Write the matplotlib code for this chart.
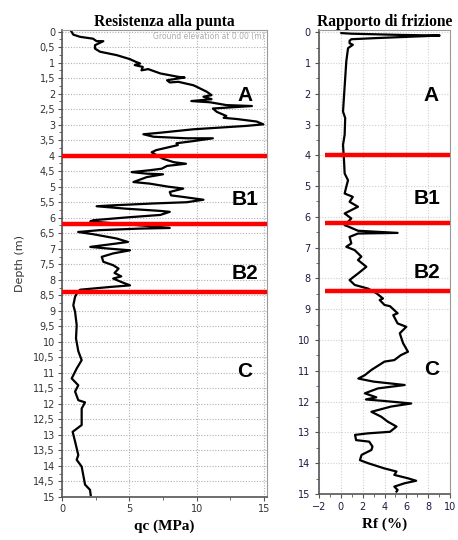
import matplotlib
matplotlib.use("Agg")
import matplotlib.pyplot as plt
import numpy as np
from matplotlib.ticker import MultipleLocator, FuncFormatter

# ---- data ----
depth_qc = [0.00, 0.10, 0.17, 0.23, 0.31, 0.31, 0.44, 0.55, 0.65, 0.76, 0.89, 0.98, 1.03, 1.08, 1.14,
            1.25, 1.21, 1.35, 1.46, 1.48, 1.57, 1.64, 1.62, 1.73, 1.78, 1.94, 2.05, 2.10, 2.18, 2.24,
            2.28, 2.37, 2.40, 2.48, 2.59, 2.72, 2.78, 2.82, 2.90, 2.99, 3.04, 3.15, 3.26, 3.31, 3.39,
            3.44, 3.44, 3.53, 3.60, 3.66, 3.82, 3.89, 3.98, 4.10, 4.21, 4.26, 4.33, 4.42, 4.47, 4.53,
            4.58, 4.60, 4.69, 4.85, 4.90, 5.00, 5.06, 5.17, 5.28, 5.33, 5.42, 5.50, 5.54, 5.60, 5.63,
            5.71, 5.78, 5.81, 5.91, 5.99, 6.08, 6.12, 6.21, 6.28, 6.33, 6.35, 6.40, 6.46, 6.53, 6.67,
            6.78, 6.83, 6.94, 7.00, 7.05, 7.15, 7.26, 7.42, 7.53, 7.64, 7.78, 7.89, 7.96, 8.07, 8.18,
            8.23, 8.32, 8.44, 8.55, 8.82, 9.03, 9.46, 9.89, 10.30, 10.59, 10.86, 11.18, 11.40, 11.60,
            11.88, 11.95, 12.15, 12.68, 12.90, 13.21, 13.65, 13.80, 14.02, 14.60, 14.77, 14.94]
qc = [0.70, 0.84, 1.34, 2.30, 2.57, 3.07, 2.45, 2.45, 2.82, 4.06, 5.05, 5.50, 5.80, 5.40, 6.00,
      5.90, 6.40, 7.30, 8.64, 9.10, 7.80, 8.00, 8.64, 9.75, 10.00, 10.75, 11.10, 10.50, 11.10, 9.60,
      11.00, 12.20, 14.10, 11.20, 11.50, 12.20, 12.00, 13.00, 14.45, 14.95, 13.70, 9.75, 7.30, 6.04, 6.80,
      9.26, 11.20, 9.75, 8.50, 8.60, 7.00, 6.66, 7.00, 7.50, 8.30, 9.20, 7.80, 7.40, 6.50, 5.17,
      6.30, 7.50, 6.30, 5.30, 6.50, 7.90, 9.00, 8.00, 8.10, 9.00, 10.50, 9.26, 6.80, 3.80, 2.57,
      4.80, 7.30, 8.00, 7.30, 4.80, 2.33, 2.10, 4.80, 6.80, 8.00, 5.80, 2.80, 1.20, 2.30, 4.06,
      4.90, 4.06, 2.10, 3.60, 5.05, 3.80, 2.95, 3.07, 3.80, 4.20, 3.90, 4.40, 3.80, 4.40, 5.05,
      3.60, 1.34, 1.10, 0.97, 0.84, 0.97, 1.09, 1.04, 1.21, 1.46, 1.09, 0.72, 1.21, 0.97,
      1.21, 1.71, 1.46, 1.46, 0.79, 0.97, 1.21, 1.09, 1.46, 1.71, 2.08, 2.13]

depth_rf = [0.03, 0.05, 0.09, 0.11, 0.16, 0.19, 0.23, 0.28, 0.36, 0.41, 0.52, 0.95, 1.49, 2.03, 2.58,
            2.79, 3.33, 3.66, 4.16, 4.59, 4.81, 5.02, 5.24, 5.35, 5.51, 5.67, 5.89, 6.05, 6.27, 6.31,
            6.45, 6.52, 6.54, 6.65, 6.86, 6.97, 7.08, 7.29, 7.40, 7.62, 7.84, 8.05, 8.21, 8.33, 8.49,
            8.65, 8.70, 8.86, 8.90, 9.13, 9.19, 9.46, 9.57, 9.78, 10.10, 10.38, 10.49, 10.65, 10.70,
            10.97, 11.14, 11.25, 11.35, 11.46, 11.57, 11.73, 11.86, 11.93, 11.97, 12.06, 12.16, 12.33,
            12.49, 12.65, 12.81, 12.98, 13.03, 13.08, 13.25, 13.30, 13.46, 13.57, 13.73, 13.90, 14.00,
            14.17, 14.27, 14.38, 14.49, 14.57, 14.65, 14.76, 14.87, 14.92]
rf = [0.05, 0.96, 5.50, 9.05, 5.50, 3.40, 0.96, 0.80, 0.80, 1.10, 0.66, 0.50, 0.40, 0.30, 0.20,
      0.40, 0.35, 0.20, 0.29, 0.35, 0.66, 0.50, 0.35, 1.10, 0.80, 1.57, 0.35, 0.96, 0.35, 0.66,
      1.57, 5.20, 1.57, 0.80, 0.96, 0.50, 1.27, 1.88, 1.57, 2.34, 1.57, 0.80, 1.27, 2.50, 3.30,
      3.86, 3.56, 4.00, 4.50, 5.20, 4.80, 5.20, 6.00, 5.40, 5.70, 6.15, 5.50, 4.90, 4.00,
      2.80, 2.20, 1.60, 3.00, 5.85, 3.40, 2.20, 3.25, 2.30, 3.70, 6.45, 4.60, 2.80,
      3.70, 4.30, 5.10, 4.50, 2.50, 1.30, 1.40, 2.60, 2.90, 2.80, 1.90, 1.75, 2.50,
      4.00, 5.10, 4.90, 6.15, 6.90, 5.85, 4.90, 5.20, 5.10]

boundaries = [4.0, 6.2, 8.4]
layer_names = ["A", "B1", "B2", "C"]
layer_depths = [2.05, 5.4, 7.8, 10.95]

# ---- figure ----
fig = plt.figure(figsize=(4.58, 5.40), dpi=100)
serif = ["Liberation Serif", "DejaVu Serif"]
sans = ["Liberation Sans", "DejaVu Sans"]
tickfont = "DejaVu Sans"

def comma_fmt(v, pos):
    s = ("%g" % v)
    return s.replace(".", ",")

# Left panel
ax1 = fig.add_axes([62/458, 1-497/540, 205/458, 467/540])
ax1.plot(qc, depth_qc, color="black", lw=1.6, solid_joinstyle="round")
ax1.set_xlim(0, 15.22)
ax1.set_ylim(15, -0.05)
ax1.xaxis.set_major_locator(MultipleLocator(5))
ax1.xaxis.set_minor_locator(MultipleLocator(2.5))
ax1.yaxis.set_major_locator(MultipleLocator(0.5))
ax1.yaxis.set_minor_locator(MultipleLocator(0.25))
ax1.yaxis.set_major_formatter(FuncFormatter(comma_fmt))
ax1.grid(True, which="major", color="#b0b0b0", ls=(0, (1, 1.5)), lw=0.8)
ax1.set_axisbelow(True)
ax1.tick_params(axis="both", which="major", labelsize=7, labelcolor="#333333",
                color="#555555", length=3, width=0.8, pad=2)
ax1.tick_params(axis="both", which="minor", color="#555555", length=2, width=0.6)
for lab in ax1.get_xticklabels() + ax1.get_yticklabels():
    lab.set_fontfamily(tickfont)
for s in ["top", "right"]:
    ax1.spines[s].set_color("#999999")
for s in ["left", "bottom"]:
    ax1.spines[s].set_color("#555555")
    ax1.spines[s].set_linewidth(1.2)
for b in boundaries:
    ax1.axhline(b, color="#ff0000", lw=3.2, zorder=4)
ax1.set_title("Resistenza alla punta", fontfamily=serif, fontweight="bold",
              fontsize=11.2, pad=3)
ax1.set_xlabel("qc (MPa)", fontfamily=serif, fontweight="bold", fontsize=11, labelpad=4)
ax1.set_ylabel("Depth (m)", fontfamily=tickfont, fontsize=8, color="#333333", labelpad=6)
ax1.text(0.99, 0.995, "Ground elevation at 0.00 (m)", transform=ax1.transAxes,
         ha="right", va="top", fontsize=5.5, color="#aaaaaa", fontfamily=tickfont)
for name, d in zip(layer_names, layer_depths):
    ax1.text(13.6, d, name, ha="center", va="center", fontsize=15,
             fontweight="bold", fontfamily=sans, zorder=5)

# Right panel
ax2 = fig.add_axes([319/458, 1-494/540, 131/458, 464/540])
ax2.plot(rf, depth_rf, color="black", lw=1.6, solid_joinstyle="round")
ax2.set_xlim(-2, 10)
ax2.set_ylim(15, -0.07)
ax2.xaxis.set_major_locator(MultipleLocator(2))
ax2.xaxis.set_minor_locator(MultipleLocator(1))
ax2.yaxis.set_major_locator(MultipleLocator(1))
ax2.yaxis.set_minor_locator(MultipleLocator(0.5))
ax2.grid(True, which="major", color="#d0d0d0", ls=(0, (1, 1.5)), lw=0.8)
ax2.set_axisbelow(True)
ax2.tick_params(axis="both", which="major", labelsize=7, labelcolor="#1a1a40",
                color="#555555", length=3, width=0.8, pad=3)
ax2.tick_params(axis="both", which="minor", color="#555555", length=2, width=0.6)
for lab in ax2.get_xticklabels() + ax2.get_yticklabels():
    lab.set_fontfamily(tickfont)
for s in ["top", "right"]:
    ax2.spines[s].set_color("#999999")
for s in ["left", "bottom"]:
    ax2.spines[s].set_color("#555555")
    ax2.spines[s].set_linewidth(1.2)
for b in boundaries:
    ax2.hlines(b, -1.45, 10, color="#ff0000", lw=3.2, zorder=4)
ax2.set_title("Rapporto di frizione", fontfamily=serif, fontweight="bold",
              fontsize=11.2, pad=3)
ax2.set_xlabel("Rf (%)", fontfamily=serif, fontweight="bold", fontsize=11, labelpad=4)
for name, d, x in zip(layer_names, layer_depths, [8.3, 7.9, 7.9, 8.3]):
    ax2.text(x, d, name, ha="center", va="center", fontsize=15,
             fontweight="bold", fontfamily=sans, zorder=5)

fig.savefig("out.png", dpi=100)
